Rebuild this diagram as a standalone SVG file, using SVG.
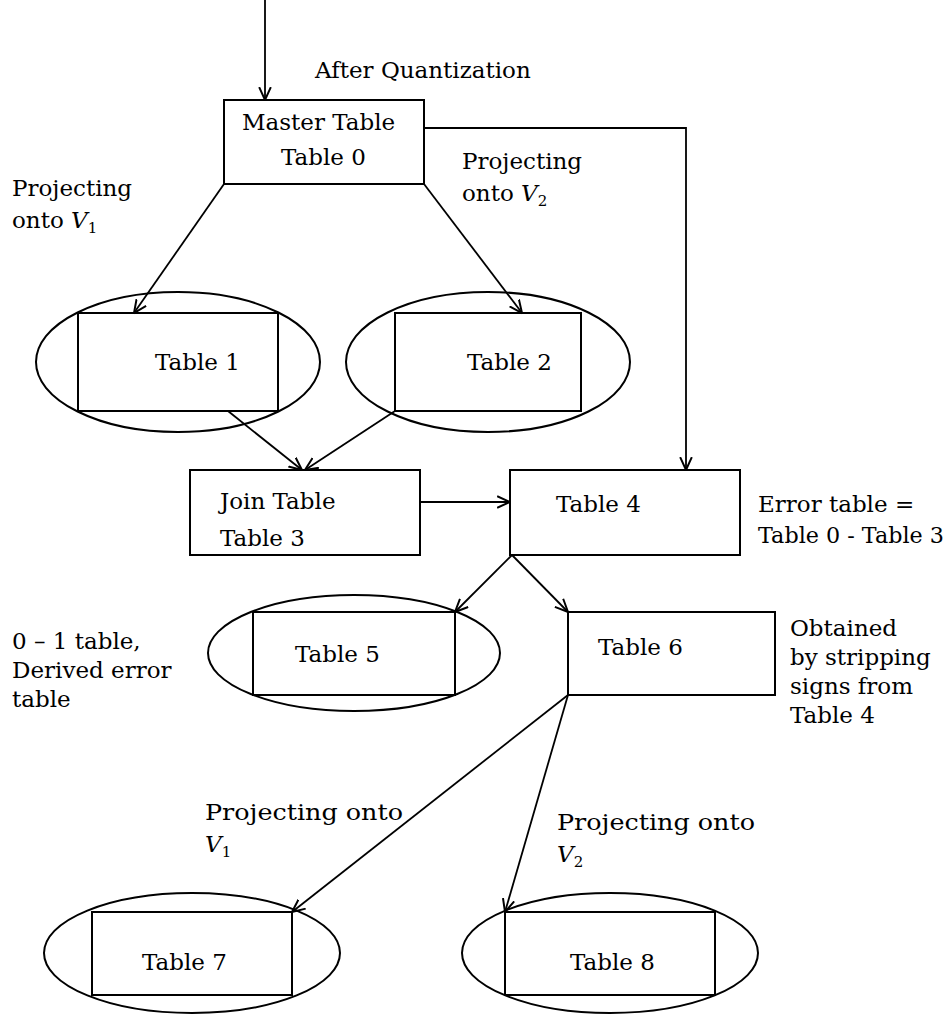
<svg xmlns="http://www.w3.org/2000/svg" width="951" height="1015" viewBox="0 0 951 1015">
<style>
text{font-family:"DejaVu Serif","Liberation Serif",serif;font-size:23px;fill:#000}
.box{fill:none;stroke:#000;stroke-width:2}
.ell{fill:none;stroke:#000;stroke-width:2}
.con{fill:none;stroke:#000;stroke-width:1.8;marker-end:url(#arr)}
.v{font-style:italic}
.sub{font-size:15px;font-style:normal}
</style>
<defs>
<marker id="arr" viewBox="0 0 12 12" refX="11" refY="6" markerWidth="14" markerHeight="14" markerUnits="userSpaceOnUse" orient="auto">
<path d="M0,1 L11,6 L0,11" fill="none" stroke="#000" stroke-width="1.7"/>
</marker>
</defs>
<rect width="951" height="1015" fill="#fff"/>
<g id="connectors">
<path class="con" d="M265,0 L265,100"/>
<path class="con" d="M424,128 L686,128 L686,470"/>
<path class="con" d="M224,184 L134,313"/>
<path class="con" d="M424,184 L522,313"/>
<path class="con" d="M228,411 L302,470"/>
<path class="con" d="M395,411 L305,470"/>
<path class="con" d="M420,502 L510,502"/>
<path class="con" d="M512,555 L455,612"/>
<path class="con" d="M512,555 L568,612"/>
<path class="con" d="M568,695 L292,912"/>
<path class="con" d="M568,695 L505,912"/>
</g>
<g id="labels">
<text x="315" y="78">After Quantization</text>
<text x="462" y="169">Projecting</text>
<text x="462" y="201">onto <tspan class="v">V</tspan><tspan class="sub" dy="5">2</tspan></text>
<text x="12" y="196">Projecting</text>
<text x="12" y="228">onto <tspan class="v">V</tspan><tspan class="sub" dy="5">1</tspan></text>
<text x="758" y="512">Error table =</text>
<text x="758" y="543" textLength="186" lengthAdjust="spacingAndGlyphs">Table 0 - Table 3</text>
<text x="12" y="649">0 – 1 table,</text>
<text x="12" y="678">Derived error</text>
<text x="12" y="707">table</text>
<text x="790" y="636">Obtained</text>
<text x="790" y="665">by stripping</text>
<text x="790" y="694">signs from</text>
<text x="790" y="723">Table 4</text>
<text x="205" y="820" textLength="198" lengthAdjust="spacingAndGlyphs">Projecting onto</text>
<text x="205" y="852" class="v">V<tspan class="sub" dy="5">1</tspan></text>
<text x="557" y="830" textLength="198" lengthAdjust="spacingAndGlyphs">Projecting onto</text>
<text x="557" y="862" class="v">V<tspan class="sub" dy="5">2</tspan></text>
</g>
<g id="table0">
<rect class="box" x="224" y="100" width="200" height="84"/>
<text x="242" y="130">Master Table</text>
<text x="281" y="165">Table 0</text>
</g>
<g id="table1">
<ellipse class="ell" cx="178" cy="362" rx="142" ry="70"/>
<rect class="box" x="78" y="313" width="200" height="98"/>
<text x="155" y="370">Table 1</text>
</g>
<g id="table2">
<ellipse class="ell" cx="488" cy="362" rx="142" ry="70"/>
<rect class="box" x="395" y="313" width="186" height="98"/>
<text x="467" y="370">Table 2</text>
</g>
<g id="table3">
<rect class="box" x="190" y="470" width="230" height="85"/>
<text x="220" y="509">Join Table</text>
<text x="220" y="546">Table 3</text>
</g>
<g id="table4">
<rect class="box" x="510" y="470" width="230" height="85"/>
<text x="556" y="512">Table 4</text>
</g>
<g id="table5">
<ellipse class="ell" cx="354" cy="653" rx="146" ry="58"/>
<rect class="box" x="253" y="612" width="202" height="83"/>
<text x="295" y="662">Table 5</text>
</g>
<g id="table6">
<rect class="box" x="568" y="612" width="207" height="83"/>
<text x="598" y="655">Table 6</text>
</g>
<g id="table7">
<ellipse class="ell" cx="192" cy="953" rx="148" ry="60"/>
<rect class="box" x="92" y="912" width="200" height="83"/>
<text x="142" y="970">Table 7</text>
</g>
<g id="table8">
<ellipse class="ell" cx="610" cy="953" rx="148" ry="60"/>
<rect class="box" x="505" y="912" width="210" height="83"/>
<text x="570" y="970">Table 8</text>
</g>
</svg>
